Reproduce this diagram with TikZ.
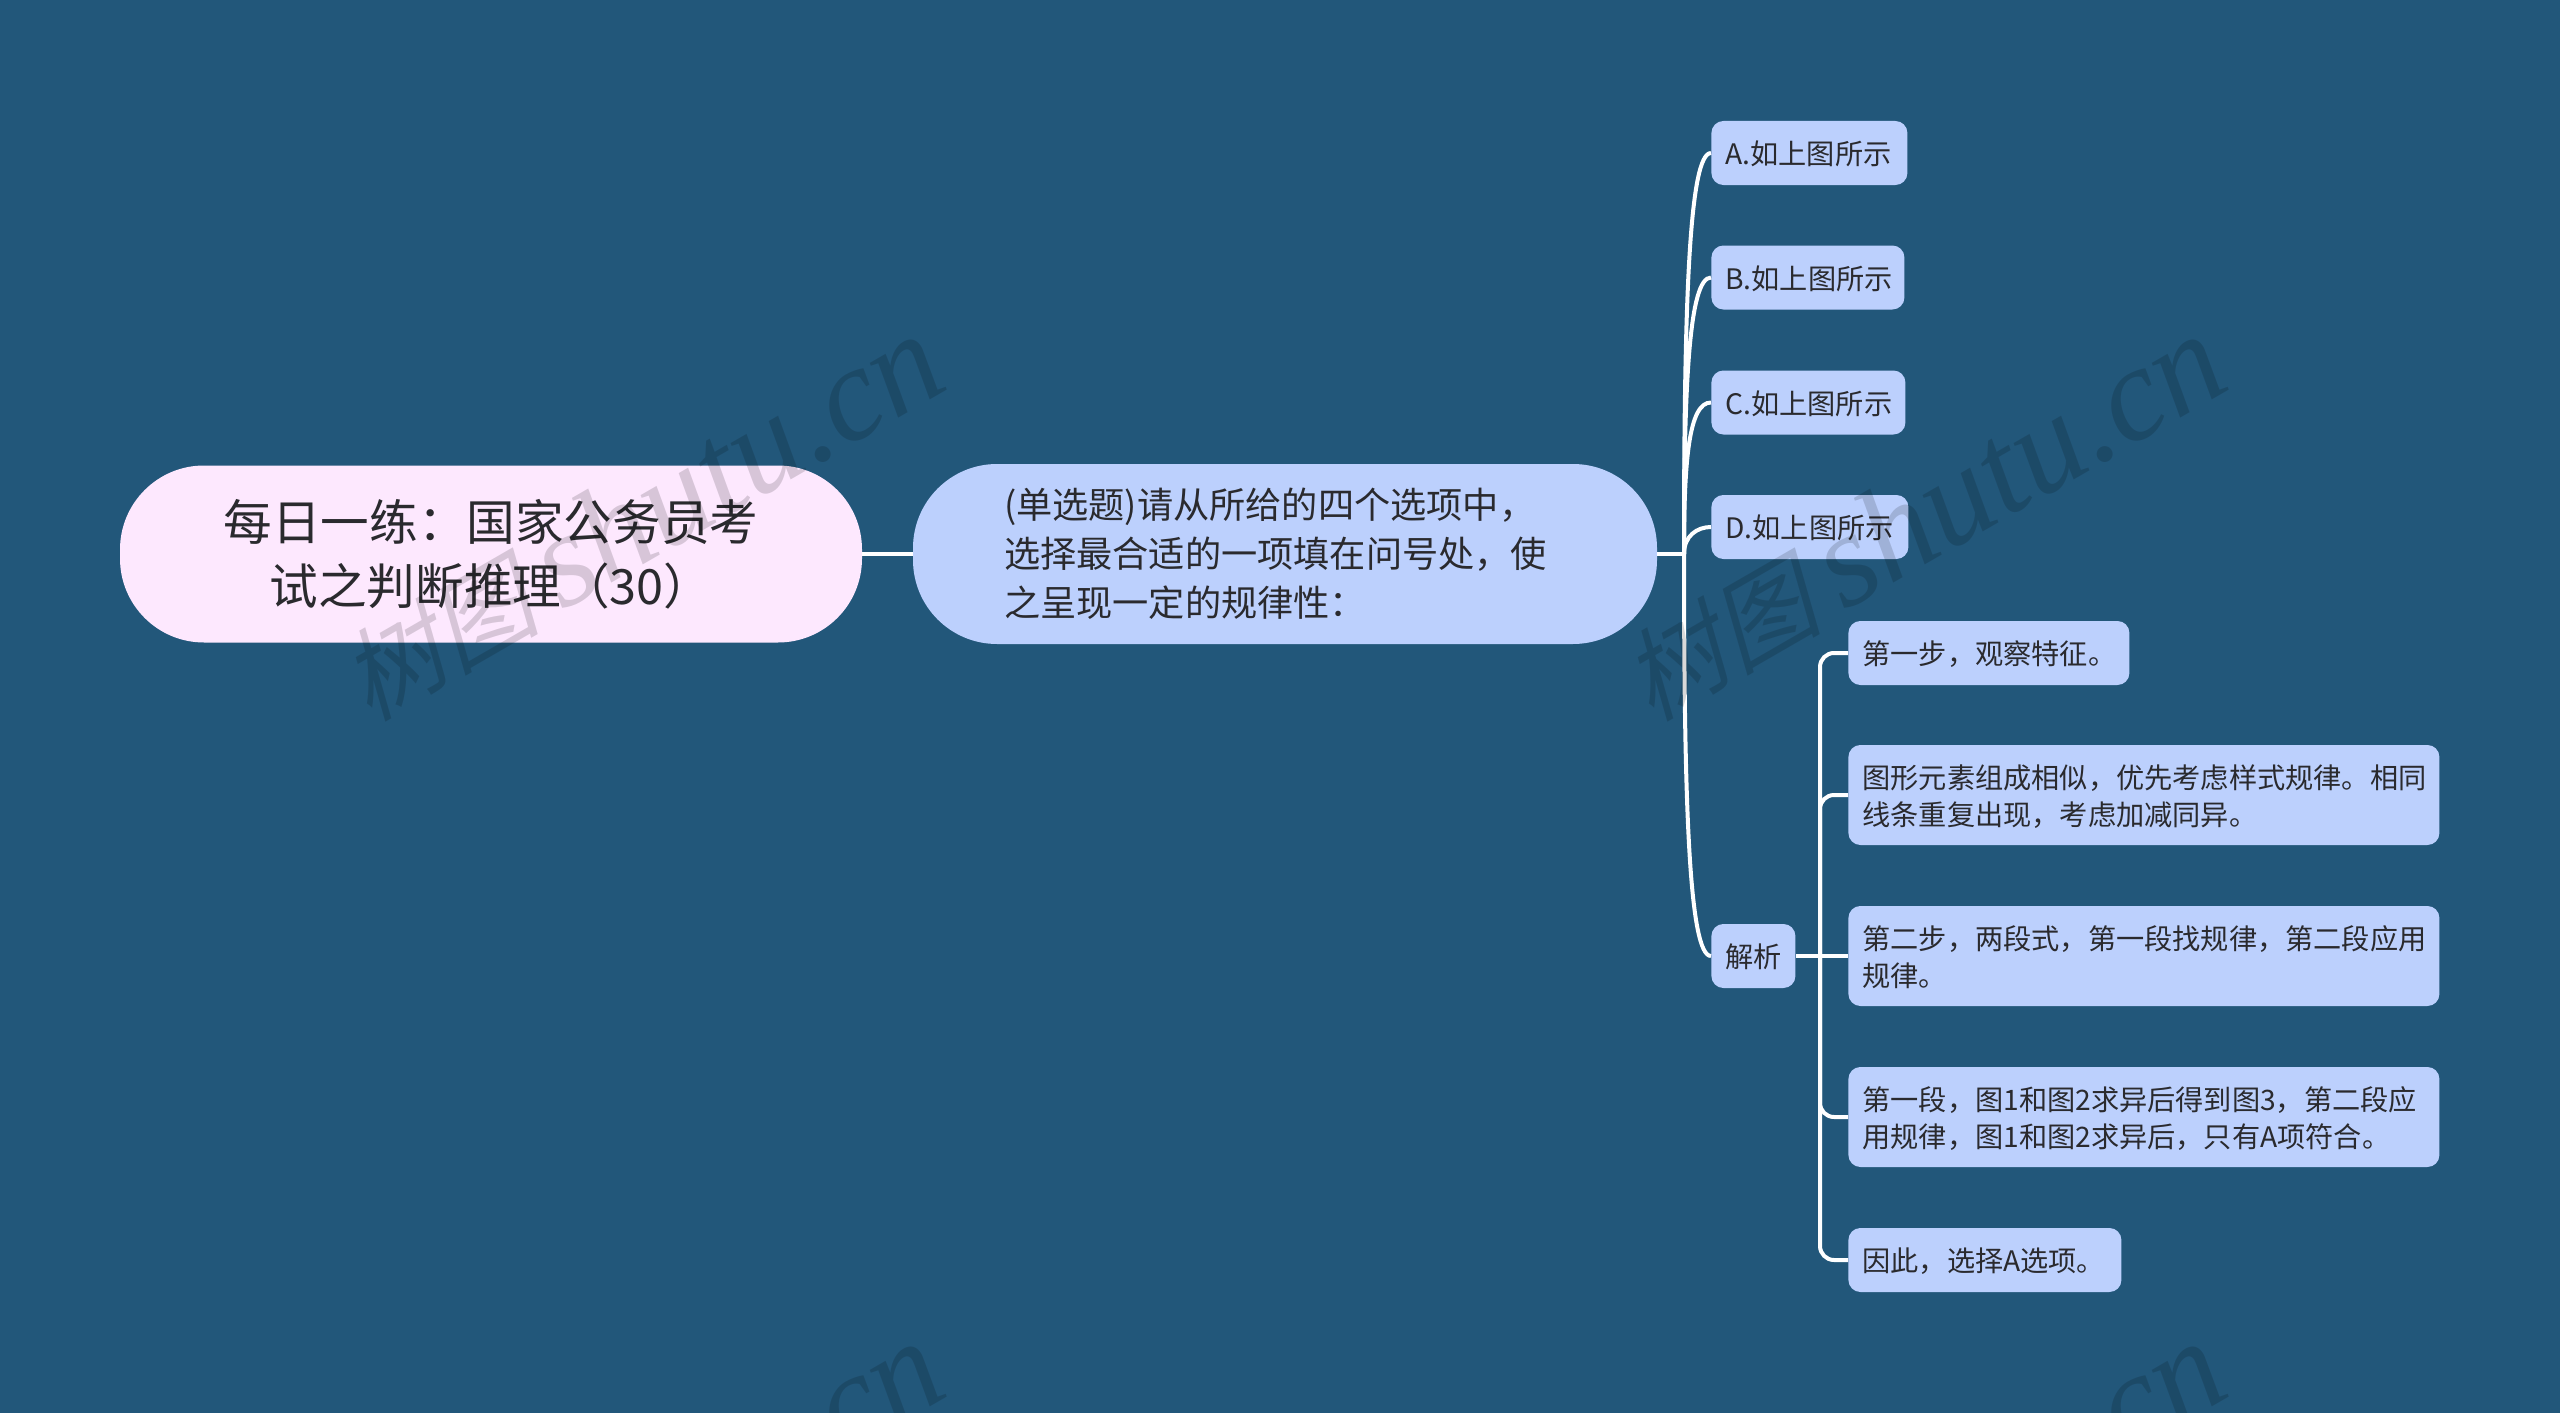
\documentclass[tikz,border=0pt]{standalone}
\usepackage{fontspec}
\setmainfont{Noto Sans CJK SC}
\newfontfamily\markcjk[FakeSlant=0.25]{Noto Sans CJK SC}
\newfontfamily\marklatin{Liberation Serif}
\definecolor{pagebg}{HTML}{22577A}
\definecolor{rootfill}{HTML}{FDE8FE}
\definecolor{nodefill}{HTML}{BCD0FD}
\definecolor{inktext}{HTML}{2A2A2E}
\begin{document}
\begin{tikzpicture}[x=0.5pt, y=-0.5pt,
    rootnode/.style={fill=rootfill, text=inktext, rounded corners=42pt, align=center, minimum width=371pt, minimum height=88.5pt, font=\fontsize{24.3}{32}\selectfont},
    stemnode/.style={fill=nodefill, text=inktext, rounded corners=42pt, align=left, inner xsep=45.5pt, inner ysep=0pt, minimum height=90pt, text width=281pt, font=\fontsize{18.1}{24.5}\selectfont},
    leafnode/.style={fill=nodefill, text=inktext, rounded corners=6pt, align=left, anchor=west, inner xsep=7pt, inner ysep=0pt, minimum height=32pt, font=\fontsize{14.1}{18.5}\selectfont, execute at end node={\endgraf\vspace{-1.6pt}}},
    twolines/.style={minimum height=50pt},
    linkline/.style={draw=white, line width=2pt},
    markword/.style={text=black, text opacity=0.15, rotate=30, inner sep=0pt}]

    % Sfondo
    \useasboundingbox (0,0) rectangle (2560,1413);
    \clip (0,0) rectangle (2560,1413);
    \fill[pagebg] (0,0) rectangle (2560,1413);

    % Nodi principali
    \node[rootnode] (root) at (491,554) {每日一练：国家公务员考\\试之判断推理（30）};
    \node[stemnode] (stem) at (1285,554) {(单选题)请从所给的四个选项中，\\选择最合适的一项填在问号处，使\\之呈现一定的规律性：};

    % Opzioni
    \node[leafnode, text width=84pt] (optA) at (1711,153) {A.如上图所示};
    \node[leafnode, text width=82.5pt] (optB) at (1711,277.5) {B.如上图所示};
    \node[leafnode, text width=83pt] (optC) at (1711,402.5) {C.如上图所示};
    \node[leafnode, text width=84.5pt] (optD) at (1711,527) {D.如上图所示};
    \node[leafnode, text width=28pt] (parse) at (1711,956) {解析};

    % Passi della soluzione
    \node[leafnode, text width=126.5pt] (stepA) at (1848,653) {第一步，观察特征。};
    \node[leafnode, twolines, text width=281.5pt] (stepB) at (1848,795) {图形元素组成相似，优先考虑样式规律。相同\\线条重复出现，考虑加减同异。};
    \node[leafnode, twolines, text width=281.5pt] (stepC) at (1848,956) {第二步，两段式，第一段找规律，第二段应用\\规律。};
    \node[leafnode, twolines, text width=281.5pt] (stepD) at (1848,1117) {第一段，图1和图2求异后得到图3，第二段应\\用规律，图1和图2求异后，只有A项符合。};
    \node[leafnode, text width=122.5pt] (stepE) at (1848,1260) {因此，选择A选项。};

    % Punti di snodo
    \coordinate (hubA) at (1684,554);
    \coordinate (hubB) at (1820,956);

    % Collegamenti
    \draw[linkline] (root.east) -- (stem.west);
    \draw[linkline] (stem.east) -- (hubA);
    \draw[linkline] (hubA) .. controls +(0,-250) and +(-22,0) .. (optA.west);
    \draw[linkline] (hubA) .. controls +(0,-170) and +(-22,0) .. (optB.west);
    \draw[linkline] (hubA) .. controls +(0,-95) and +(-22,0) .. (optC.west);
    \draw[linkline] (hubA) .. controls +(0,-18) and +(-14,0) .. (optD.west);
    \draw[linkline] (hubA) .. controls +(0,250) and +(-22,0) .. (parse.west);

    \draw[linkline] (parse.east) -- (stepC.west);
    \draw[linkline, rounded corners=7pt] (hubB) |- (stepA.west);
    \draw[linkline, rounded corners=7pt] (hubB) |- (stepB.west);
    \draw[linkline, rounded corners=7pt] (hubB) |- (stepD.west);
    \draw[linkline, rounded corners=7pt] (hubB) |- (stepE.west);

    % Filigrana
    \foreach \col/\row [count=\i] in {0/0, 1282/0, 0/1007, 1282/1007} {
        \node[markword] (mark\i) at (640+\col,518+\row) {\fontsize{50}{50}\selectfont\markcjk 树图 \fontsize{67}{67}\selectfont\marklatin\itshape shutu.cn};
    }

\end{tikzpicture}
\end{document}
